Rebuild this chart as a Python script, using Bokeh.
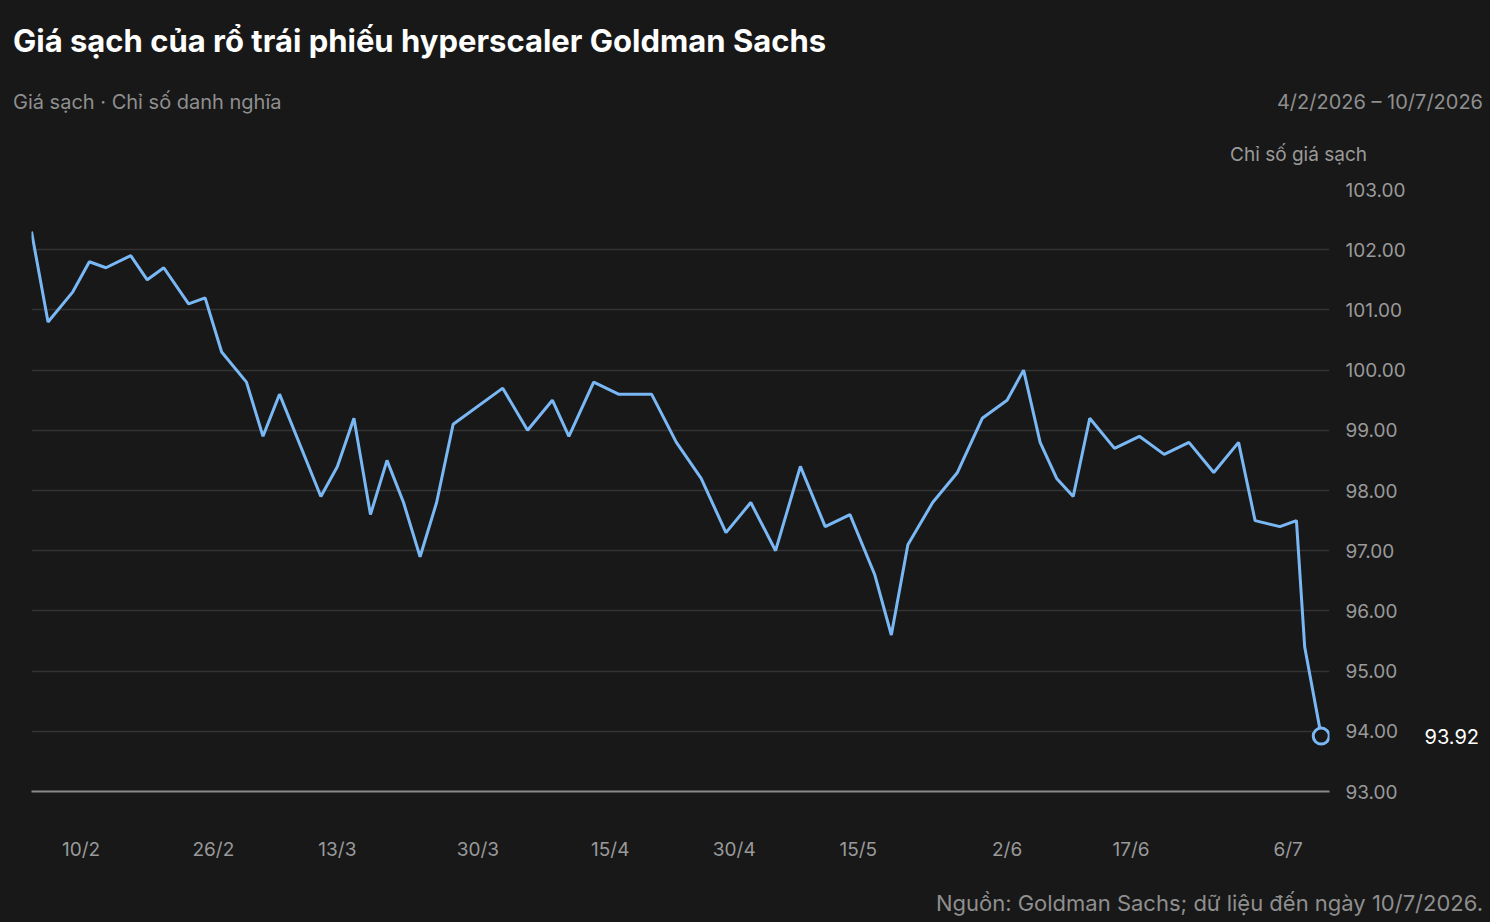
from datetime import datetime, timedelta
from bokeh.plotting import figure
from bokeh.models import FixedTicker, DatetimeTickFormatter, NumeralTickFormatter, Range1d, Div, LinearAxis
from bokeh.layouts import column
from bokeh.embed import file_html
from bokeh.resources import INLINE

dates = ["2026-02-04","2026-02-06","2026-02-09","2026-02-11","2026-02-13","2026-02-16","2026-02-18","2026-02-20",
         "2026-02-23","2026-02-25","2026-02-27","2026-03-02","2026-03-04","2026-03-06","2026-03-11","2026-03-13",
         "2026-03-15","2026-03-17","2026-03-19","2026-03-21","2026-03-23","2026-03-25","2026-03-27","2026-04-02",
         "2026-04-05","2026-04-08","2026-04-10","2026-04-13","2026-04-16","2026-04-20","2026-04-23","2026-04-26",
         "2026-04-29","2026-05-02","2026-05-05","2026-05-08","2026-05-11","2026-05-14","2026-05-17","2026-05-19",
         "2026-05-21","2026-05-24","2026-05-27","2026-05-30","2026-06-02","2026-06-04","2026-06-06","2026-06-08",
         "2026-06-10","2026-06-12","2026-06-15","2026-06-18","2026-06-21","2026-06-24","2026-06-27","2026-06-30",
         "2026-07-02","2026-07-05","2026-07-07","2026-07-08","2026-07-10"]
prices = [102.3,100.8,101.3,101.8,101.7,101.9,101.5,101.7,101.1,101.2,100.3,99.8,98.9,99.6,97.9,98.4,
          99.2,97.6,98.5,97.8,96.9,97.8,99.1,99.7,99.0,99.5,98.9,99.8,99.6,99.6,98.8,98.2,
          97.3,97.8,97.0,98.4,97.4,97.6,96.6,95.6,97.1,97.8,98.3,99.2,99.5,100.0,98.8,98.2,
          97.9,99.2,98.7,98.9,98.6,98.8,98.3,98.8,97.5,97.4,97.5,95.4,93.92]
tick_dates = ["2026-02-10","2026-02-26","2026-03-13","2026-03-30","2026-04-15","2026-04-30","2026-05-15",
              "2026-06-02","2026-06-17","2026-07-06"]
y_ticks = [93,94,95,96,97,98,99,100,101,102,103]

xs = [datetime.strptime(d, "%Y-%m-%d") for d in dates]
def ms(d): return (d - datetime(1970,1,1)).total_seconds()*1000

BG = "#181818"
W = 1474
F = "font-family:Inter,sans-serif;"

header = Div(width=W, height=151, styles={"background": BG}, text=f"""
<div style="position:relative;width:{W}px;height:151px;{F}">
 <div style="position:absolute;left:0;top:6px;font-size:31px;font-weight:bold;color:#fff;white-space:nowrap">Giá sạch của rổ trái phiếu hyperscaler Goldman Sachs</div>
 <div style="position:absolute;left:0;top:75px;font-size:20px;color:#8f8f8f;white-space:nowrap">Giá sạch · Chỉ số danh nghĩa</div>
 <div style="position:absolute;right:4px;top:75px;font-size:20px;color:#8f8f8f;white-space:nowrap">4/2/2026 – 10/7/2026</div>
 <div style="position:absolute;right:120px;top:128px;font-size:19px;color:#9a9a9a;white-space:nowrap">Chỉ số giá sạch</div>
</div>""")

p = figure(width=W, height=694, x_axis_type="datetime", output_backend="svg", toolbar_location=None,
           background_fill_color=BG, border_fill_color=BG, outline_line_color=None,
           min_border_left=23, min_border_right=112, min_border_top=20, min_border_bottom=70,
           y_axis_location="right")
p.x_range = Range1d(ms(xs[0]), ms(xs[-1] + timedelta(days=1)))
p.y_range = Range1d(93, 103)

p.line(xs, prices, line_color="#7ab8f5", line_width=3)
p.scatter([xs[-1]], [prices[-1]], size=16, fill_color=BG, line_color="#7ab8f5", line_width=3)

last_ax = LinearAxis(ticker=FixedTicker(ticks=[prices[-1]]), formatter=NumeralTickFormatter(format="0.00"),
                     axis_line_color=None, major_tick_line_color=None, minor_tick_line_color=None,
                     major_label_text_color="#ffffff", major_label_text_font="Inter",
                     major_label_text_font_size="20px", major_label_standoff=10)
p.add_layout(last_ax, "right")

p.xaxis.ticker = FixedTicker(ticks=[ms(datetime.strptime(d, "%Y-%m-%d")) for d in tick_dates])
p.xaxis.formatter = DatetimeTickFormatter(days="%-d/%-m", months="%-d/%-m")
ax_y = p.yaxis[0]
ax_y.ticker = FixedTicker(ticks=y_ticks)
ax_y.formatter = NumeralTickFormatter(format="0.00")
for ax in (p.xaxis[0], ax_y):
    ax.major_tick_line_color = None
    ax.minor_tick_line_color = None
    ax.major_label_text_color = "#9a9a9a"
    ax.major_label_text_font = "Inter"
    ax.major_label_text_font_size = "19px"
ax_y.axis_line_color = None
ax_y.major_label_standoff = 10
p.xaxis.axis_line_color = "#8a8a8a"
p.xaxis.axis_line_width = 2
p.xaxis.major_label_standoff = 40
p.xgrid.grid_line_color = None
p.ygrid.grid_line_color = "#333333"
p.ygrid.grid_line_width = 1.5

# move the white last-value axis onto the same column as the main y labels
p.right = [last_ax, ax_y] if False else p.right
last_ax.visible = True

footer = Div(width=W, height=61, styles={"background": BG}, text=f"""
<div style="position:relative;width:{W}px;height:61px;{F}">
 <div style="position:absolute;right:4px;top:20px;font-size:22px;color:#8f8f8f;white-space:nowrap">Nguồn: Goldman Sachs; dữ liệu đến ngày 10/7/2026.</div>
</div>""")

lay = column(header, p, footer, spacing=0, styles={"background": BG})
html = file_html(lay, INLINE).replace("<body>", f'<body style="background:{BG};margin:8px">')
open("out.html", "w").write(html)
